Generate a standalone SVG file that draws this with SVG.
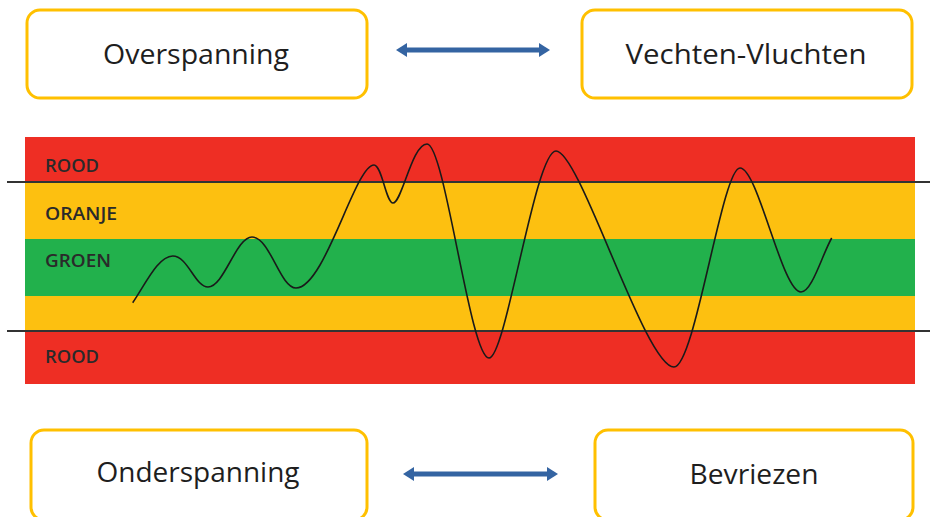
<svg xmlns="http://www.w3.org/2000/svg" width="930" height="517" viewBox="0 0 930 517">
<defs>
<style>
.box{fill:#fff;stroke:#FFC000;stroke-width:3}
.t{font-family:"Open Sans","Liberation Sans",sans-serif;font-size:28px;fill:#1e1e1e;text-anchor:middle}
.lbl{font-family:"Open Sans","Liberation Sans",sans-serif;font-size:17.5px;font-weight:600;fill:#2a2a2a}
.arr{stroke:#3464A2;stroke-width:5;fill:none}
.ah{fill:#3464A2}
</style>
</defs>
<rect width="930" height="517" fill="#fff"/>
<g id="bands">
<rect x="25" y="137" width="890" height="45" fill="#EE2E24"/>
<rect x="25" y="182" width="890" height="57" fill="#FDC010"/>
<rect x="25" y="239" width="890" height="57" fill="#22B14C"/>
<rect x="25" y="296" width="890" height="35" fill="#FDC010"/>
<rect x="25" y="331" width="890" height="53" fill="#EE2E24"/>
<line x1="7" y1="182" x2="930" y2="182" stroke="#333" stroke-width="2"/>
<line x1="7" y1="331" x2="930" y2="331" stroke="#333" stroke-width="2"/>
<text class="lbl" x="45" y="172" textLength="54" lengthAdjust="spacingAndGlyphs">ROOD</text>
<text class="lbl" x="45" y="220" textLength="72" lengthAdjust="spacingAndGlyphs">ORANJE</text>
<text class="lbl" x="45" y="267" textLength="66" lengthAdjust="spacingAndGlyphs">GROEN</text>
<text class="lbl" x="45" y="363" textLength="54" lengthAdjust="spacingAndGlyphs">ROOD</text>
<path d="M132.7,302.7 C145,285 158,256 172.7,256 C188,256 195,287 208,287 C224,287 236,237 252,237 C270,237 280,288 296,288 C325,288 355,165 374,165 C382,165 386,203 393,203 C402,203 412,144 427,144 C445,144 470,358 489,358 C506,358 535,151 556,151 C580,151 645,367 674,367 C695,367 722,168 740,168 C758,168 782,292 801,292 C812,292 822,255 831.7,238" fill="none" stroke="#1a1a1a" stroke-width="1.6"/>
</g>
<g id="node-overspanning">
<rect class="box" x="27" y="10" width="340" height="88" rx="13"/>
<text class="t" x="196" y="64" textLength="186" lengthAdjust="spacingAndGlyphs">Overspanning</text>
</g>
<g id="node-vechten">
<rect class="box" x="582" y="10" width="330" height="88" rx="13"/>
<text class="t" x="746" y="64" textLength="241" lengthAdjust="spacingAndGlyphs">Vechten-Vluchten</text>
</g>
<g id="node-onderspanning">
<rect class="box" x="31" y="430" width="336" height="90" rx="13"/>
<text class="t" x="198" y="482" textLength="203" lengthAdjust="spacingAndGlyphs">Onderspanning</text>
</g>
<g id="node-bevriezen">
<rect class="box" x="595" y="430" width="318" height="90" rx="13"/>
<text class="t" x="754" y="484" textLength="129" lengthAdjust="spacingAndGlyphs">Bevriezen</text>
</g>
<g id="connectors">
<line class="arr" x1="405" y1="50" x2="541" y2="50"/>
<polygon class="ah" points="396,50 407,43 407,57"/>
<polygon class="ah" points="550,50 539,43 539,57"/>
<line class="arr" x1="412" y1="474" x2="549" y2="474"/>
<polygon class="ah" points="403,474 414,467 414,481"/>
<polygon class="ah" points="558,474 547,467 547,481"/>
</g>
</svg>
